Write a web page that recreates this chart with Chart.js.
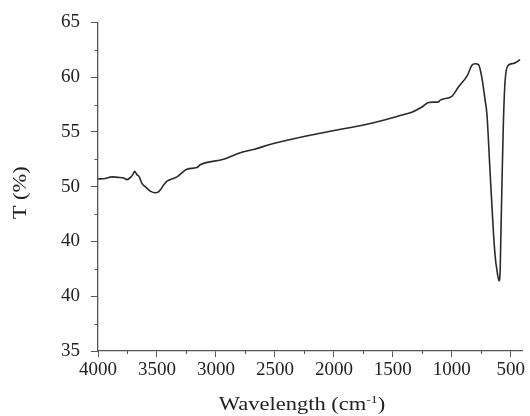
<!DOCTYPE html>
<html>
<head>
<meta charset="utf-8">
<script src="https://cdn.jsdelivr.net/npm/chart.js@4"></script>
<style>
  body { margin: 0; background: #fff; }
  .chart-container { width: 530px; height: 416px; }
</style>
</head>
<body>
<div class="chart-container"><canvas id="irChart" width="530" height="416"></canvas></div>
<script>
// IR spectrum
const wavenumbers = [4000, 3940, 3881, 3830, 3783, 3754, 3720, 3700, 3690, 3670, 3650, 3627, 3599, 3557, 3514, 3490,
  3472, 3440, 3415, 3330, 3246, 3161, 3133, 2936, 2794, 2681, 2512, 2229, 2031, 1720, 1551, 1438, 1339, 1250, 1198,
  1150, 1113, 1099, 1000, 944, 868, 830, 802, 774, 746, 718, 703, 675, 647, 632, 618, 599, 590, 585, 576, 563, 548,
  520, 478, 449, 421];
const transmittance = [50.7, 50.75, 50.9, 50.85, 50.8, 50.65, 50.9, 51.2, 51.4, 51.1, 50.9, 50.3, 50.0, 49.6, 49.45, 49.5,
  49.7, 50.2, 50.5, 50.9, 51.6, 51.75, 52.0, 52.5, 53.1, 53.4, 53.94, 54.64, 55.06, 55.7, 56.16, 56.5, 56.8, 57.3, 57.68,
  57.72, 57.74, 57.9, 58.25, 59.1, 60.17, 61.08, 61.23, 61.14, 60.0, 57.9, 56.7, 51.2, 45.8, 43.6, 42.4, 41.4, 42.4, 45.1, 49.7, 55.8, 59.7,
  61.1, 61.25, 61.4, 61.6];

const xTicks = [4000, 3500, 3000, 2500, 2000, 1500, 1000, 500];
const xMinorTicks = [3750, 3250, 2750, 2250, 1750, 1250, 750];
const yTicks = [35, 40, 45, 50, 55, 60, 65];
const yTickLabels = ['35', '40', '40', '50', '55', '60', '65'];
const yMinorTicks = [37.5, 42.5, 47.5, 52.5, 57.5, 62.5];

const axisColor = '#555';
const textColor = '#222';
const fontFamily = "'Liberation Serif', 'Times New Roman', serif";
const stretch = 1.25; // the original lettering is wide

const extrasPlugin = {
  id: 'extras',
  afterDraw(chart) {
    const ctx = chart.ctx;
    const xs = chart.scales.x;
    const ys = chart.scales.y;
    const area = chart.chartArea;
    ctx.save();
    ctx.strokeStyle = axisColor;
    ctx.lineWidth = 1;
    xMinorTicks.forEach(v => {
      const px = Math.round(xs.getPixelForValue(v)) + 0.5;
      ctx.beginPath();
      ctx.moveTo(px, xs.top);
      ctx.lineTo(px, xs.top + 3);
      ctx.stroke();
    });
    yMinorTicks.forEach(v => {
      const py = Math.round(ys.getPixelForValue(v)) + 0.5;
      ctx.beginPath();
      ctx.moveTo(ys.right, py);
      ctx.lineTo(ys.right - 3.5, py);
      ctx.stroke();
    });
    ctx.restore();

    // x title with superscript
    const main = 'Wavelength (cm';
    const sup = '-1';
    const end = ')';
    ctx.save();
    ctx.fillStyle = textColor;
    ctx.textBaseline = 'alphabetic';
    ctx.textAlign = 'left';
    ctx.font = '18px ' + fontFamily;
    const wMain = ctx.measureText(main).width;
    const wEnd = ctx.measureText(end).width;
    ctx.font = '11px ' + fontFamily;
    const wSup = ctx.measureText(sup).width;
    const total = (wMain + wSup + wEnd) * stretch;
    const cx = (area.left + area.right) / 2 - 8;
    ctx.translate(cx - total / 2, 410);
    ctx.scale(stretch, 1);
    let x = 0;
    ctx.font = '18px ' + fontFamily;
    ctx.fillText(main, x, 0);
    x += wMain;
    ctx.font = '11px ' + fontFamily;
    ctx.fillText(sup, x, -7);
    x += wSup;
    ctx.font = '18px ' + fontFamily;
    ctx.fillText(end, x, 0);
    ctx.restore();

    // y title
    ctx.save();
    ctx.fillStyle = textColor;
    ctx.font = '18px ' + fontFamily;
    ctx.textAlign = 'center';
    ctx.textBaseline = 'middle';
    ctx.translate(21, (area.top + area.bottom) / 2 + 6);
    ctx.rotate(-Math.PI / 2);
    ctx.scale(stretch, 1);
    ctx.fillText('T (%)', 0, 0);
    ctx.restore();
  }
};

const ctx = document.getElementById('irChart').getContext('2d');
new Chart(ctx, {
  type: 'line',
  data: {
    datasets: [{
      data: wavenumbers.map((w, i) => ({ x: w, y: transmittance[i] })),
      borderColor: '#2a2a2a',
      borderWidth: 1.6,
      pointRadius: 0,
      fill: false,
      cubicInterpolationMode: 'monotone'
    }]
  },
  options: {
    responsive: false,
    animation: false,
    layout: { padding: { left: 0, right: 8, top: 22, bottom: 0 } },
    plugins: { legend: { display: false }, tooltip: { enabled: false } },
    scales: {
      x: {
        type: 'linear',
        reverse: true,
        min: 405,
        max: 4000,
        afterBuildTicks: scale => { scale.ticks = xTicks.map(v => ({ value: v })); },
        afterFit: scale => { scale.height = 65; },
        ticks: {
          autoSkip: false,
          maxRotation: 0,
          padding: 2,
          color: textColor,
          font: { family: fontFamily, size: 19 },
          callback: value => String(value)
        },
        grid: { drawOnChartArea: false, tickLength: 6, tickColor: axisColor, tickWidth: 1 },
        border: { color: axisColor, width: 1.3 }
      },
      y: {
        min: 35,
        max: 65,
        afterBuildTicks: scale => { scale.ticks = yTicks.map(v => ({ value: v })); },
        afterFit: scale => { scale.width = 98; },
        ticks: {
          padding: 11,
          color: textColor,
          font: { family: fontFamily, size: 19 },
          callback: value => yTickLabels[yTicks.indexOf(value)]
        },
        grid: { drawOnChartArea: false, tickLength: 7, tickColor: axisColor, tickWidth: 1 },
        border: { color: axisColor, width: 1.3 }
      }
    }
  },
  plugins: [extrasPlugin]
});
</script>
</body>
</html>
